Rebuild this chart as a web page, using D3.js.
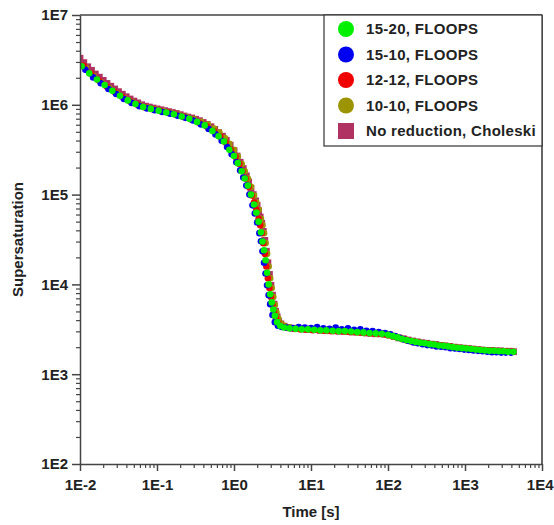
<!DOCTYPE html>
<html><head><meta charset="utf-8">
<script src="https://cdn.jsdelivr.net/npm/d3@7/dist/d3.min.js"></script>
<style>
html,body{margin:0;padding:0;background:#fff;}
svg{display:block;font-family:"Liberation Sans",Arial,sans-serif;}
</style></head>
<body>
<svg id="c" width="554" height="525"></svg>
<script>
// ---- data ----
const seriesNames = ["15-20, FLOOPS","15-10, FLOOPS","12-12, FLOOPS","10-10, FLOOPS","No reduction, Choleski"];
const xTickLabels = ["1E-2","1E-1","1E0","1E1","1E2","1E3","1E4"];
const yTickLabels = ["1E2","1E3","1E4","1E5","1E6","1E7"];

const greenT = [0.0105,0.0132,0.0166,0.0209,0.0263,0.0331,0.0417,0.0525,0.0661,0.0832,0.105,0.132,0.166,0.209,0.263,0.331,0.417,0.525,0.631,0.741,0.871,1.0,1.122,1.259,1.38,1.514,1.66,1.82,1.95,2.09,2.239,2.344,2.455,2.57,2.69,2.82,2.95,3.09,3.24,3.39,3.63,3.98,4.47,5.25,6.31,7.59,9.12,11.0,13.2,15.8,19.1,22.9,27.5,33.1,39.8,47.9,57.5,69.2,83.2,100,115,132,151,174,200,229,263,302,347,398,457,525,603,692,794,912,1047,1202,1380,1585,1820,2089,2399,2754,3162,3631,4266];
const greenS = [2.69e6,2.24e6,1.91e6,1.66e6,1.43e6,1.26e6,1.12e6,1.02e6,9.44e5,9.0e5,8.6e5,8.2e5,7.85e5,7.4e5,7.0e5,6.45e5,5.9e5,5.1e5,4.47e5,3.9e5,3.16e5,2.69e5,2.24e5,1.82e5,1.51e5,1.26e5,1.0e5,7.76e4,6.3e4,5.0e4,3.8e4,3.0e4,2.4e4,1.86e4,1.35e4,1.0e4,7.76e3,6.3e3,5.25e3,4.47e3,3.8e3,3.47e3,3.31e3,3.24e3,3.2e3,3.16e3,3.16e3,3.13e3,3.09e3,3.09e3,3.05e3,3.02e3,3.02e3,2.99e3,2.95e3,2.92e3,2.88e3,2.85e3,2.82e3,2.75e3,2.66e3,2.57e3,2.48e3,2.40e3,2.34e3,2.29e3,2.24e3,2.21e3,2.16e3,2.14e3,2.09e3,2.07e3,2.04e3,2.0e3,1.97e3,1.95e3,1.93e3,1.905e3,1.88e3,1.86e3,1.84e3,1.82e3,1.82e3,1.80e3,1.80e3,1.78e3,1.78e3];

const blueT = [0.01175,0.0148,0.0186,0.0234,0.0295,0.0372,0.0468,0.0589,0.0741,0.0933,0.117,0.148,0.186,0.234,0.295,0.372,0.468,0.575,0.692,0.813,0.933,1.072,1.202,1.318,1.445,1.585,1.738,1.862,1.995,2.138,2.239,2.344,2.455,2.57,2.69,2.82,2.95,3.16,3.39,3.72,4.17,4.79,5.75,6.92,8.32,10,12.0,14.5,17.4,20.9,25.1,30.2,36.3,43.7,52.5,63.1,75.9,91.2,107,123,141,162,186,214,245,282,324,372,427,490,562,646,741,851,977,1122,1288,1479,1698,1950,2239,2570,2951,3388,3981];
const blueS = [2.45e6,2.02e6,1.74e6,1.50e6,1.32e6,1.16e6,1.05e6,9.66e5,9.12e5,8.71e5,8.32e5,7.94e5,7.55e5,7.16e5,6.68e5,6.03e5,5.37e5,4.68e5,3.98e5,3.39e5,2.82e5,2.29e5,1.86e5,1.55e5,1.26e5,1.0e5,7.59e4,6.17e4,4.9e4,3.72e4,3.02e4,2.34e4,1.74e4,1.32e4,9.77e3,7.59e3,6.03e3,4.57e3,3.8e3,3.47e3,3.35e3,3.31e3,3.27e3,3.35e3,3.31e3,3.27e3,3.36e3,3.24e3,3.20e3,3.31e3,3.16e3,3.24e3,3.13e3,3.16e3,3.05e3,3.02e3,2.95e3,2.88e3,2.79e3,2.66e3,2.54e3,2.43e3,2.34e3,2.26e3,2.21e3,2.16e3,2.11e3,2.09e3,2.04e3,2.02e3,2.0e3,1.95e3,1.93e3,1.905e3,1.88e3,1.86e3,1.84e3,1.82e3,1.80e3,1.78e3,1.76e3,1.76e3,1.74e3,1.74e3,1.74e3];

const redT = [0.0111,0.01396,0.0176,0.0221,0.0279,0.0351,0.0442,0.0556,0.070,0.0881,0.111,0.140,0.176,0.221,0.279,0.351,0.442,0.55,0.661,0.776,0.912,1.047,1.175,1.288,1.413,1.549,1.698,1.82,1.95,2.089,2.188,2.291,2.399,2.512,2.63,2.754,2.884,3.02,3.162,3.31,3.51,3.80,4.27,5.01,6.03,7.24,8.71,10.5,12.6,15.1,18.2,21.9,26.3,31.6,38.0,45.7,55.0,66.1,79.4,95.5,112,129,148,170,195,224,257,295,339,389,447,513,589,676,776,891,1023,1175,1349,1549,1778,2042,2344,2692,3090,3548,4169];
const redS = [2.72e6,2.21e6,1.86e6,1.60e6,1.40e6,1.23e6,1.10e6,1.0e6,9.33e5,8.91e5,8.51e5,8.13e5,7.76e5,7.33e5,6.84e5,6.31e5,5.75e5,5.07e5,4.42e5,3.8e5,3.13e5,2.63e5,2.19e5,1.82e5,1.51e5,1.22e5,9.77e4,8.13e4,6.76e4,5.37e4,4.57e4,3.72e4,2.88e4,2.19e4,1.58e4,1.17e4,9.12e3,7.24e3,5.89e3,4.9e3,4.17e3,3.63e3,3.39e3,3.27e3,3.2e3,3.16e3,3.13e3,3.09e3,3.09e3,3.05e3,3.02e3,3.02e3,2.99e3,2.95e3,2.95e3,2.92e3,2.88e3,2.85e3,2.82e3,2.75e3,2.69e3,2.60e3,2.51e3,2.43e3,2.34e3,2.29e3,2.24e3,2.21e3,2.16e3,2.14e3,2.09e3,2.07e3,2.04e3,2.0e3,1.97e3,1.95e3,1.93e3,1.905e3,1.88e3,1.86e3,1.84e3,1.82e3,1.82e3,1.80e3,1.80e3,1.78e3,1.78e3];

const oliveT = [0.0119,0.01496,0.0188,0.0237,0.0299,0.0376,0.0473,0.0596,0.075,0.0944,0.119,0.150,0.188,0.237,0.299,0.372,0.457,0.55,0.646,0.759,0.871,1.0,1.122,1.259,1.38,1.514,1.66,1.82,1.95,2.089,2.239,2.344,2.455,2.57,2.69,2.82,2.95,3.09,3.24,3.39,3.55,3.76,4.07,4.57,5.37,6.46,7.76,9.33,11.2,13.5,16.2,19.5,23.4,28.2,33.9,40.7,49.0,58.9,70.8,85.1,102,117,135,155,178,204,234,269,309,355,407,468,537,617,708,813,933,1072,1230,1413,1622,1862,2138,2455,2818,3236,3715];
const oliveS = [2.57e6,2.11e6,1.78e6,1.55e6,1.35e6,1.19e6,1.08e6,9.89e5,9.33e5,8.91e5,8.51e5,8.13e5,7.76e5,7.33e5,6.92e5,6.46e5,6.03e5,5.43e5,4.9e5,4.27e5,3.67e5,3.16e5,2.66e5,2.19e5,1.82e5,1.51e5,1.22e5,9.77e4,8.13e4,6.76e4,5.37e4,4.57e4,3.72e4,2.88e4,2.19e4,1.58e4,1.17e4,9.12e3,7.24e3,5.89e3,4.9e3,4.17e3,3.67e3,3.43e3,3.31e3,3.24e3,3.2e3,3.16e3,3.13e3,3.09e3,3.05e3,3.02e3,3.02e3,2.99e3,2.95e3,2.92e3,2.88e3,2.85e3,2.82e3,2.79e3,2.72e3,2.63e3,2.54e3,2.45e3,2.37e3,2.32e3,2.26e3,2.24e3,2.19e3,2.16e3,2.11e3,2.09e3,2.07e3,2.02e3,2.0e3,1.97e3,1.95e3,1.93e3,1.905e3,1.88e3,1.86e3,1.84e3,1.82e3,1.82e3,1.80e3,1.80e3,1.78e3];

const pinkT = [0.01,0.0112,0.0126,0.0141,0.0158,0.0178,0.02,0.0224,0.0251,0.0282,0.0316,0.0355,0.0398,0.0447,0.0501,0.0562,0.0631,0.0708,0.0794,0.0891,0.1,0.112,0.126,0.141,0.158,0.178,0.2,0.224,0.251,0.282,0.316,0.355,0.398,0.447,0.501,0.562,0.631,0.708,0.794,0.891,1.0,1.096,1.202,1.318,1.445,1.549,1.66,1.778,1.905,1.995,2.089,2.188,2.291,2.399,2.512,2.63,2.754,2.884,3.02,3.162,3.311,3.467,3.631,3.802,4.07,4.47,5.01,5.75,6.61,7.59,8.71,10,11.5,13.2,15.1,17.4,20,22.9,26.3,30.2,34.7,39.8,45.7,52.5,60.3,69.2,79.4,91.2,105,120,138,158,182,209,240,275,316,363,417,479,550,631,724,832,955,1096,1259,1445,1660,1905,2188,2512,2884,3311,3802,4266];
const pinkS = [3.3e6,2.95e6,2.65e6,2.42e6,2.2e6,2.03e6,1.87e6,1.73e6,1.61e6,1.50e6,1.40e6,1.31e6,1.23e6,1.16e6,1.10e6,1.05e6,1.0e6,9.66e5,9.44e5,9.2e5,9.0e5,8.8e5,8.6e5,8.4e5,8.2e5,8.0e5,7.76e5,7.5e5,7.3e5,7.13e5,6.9e5,6.65e5,6.35e5,6.05e5,5.7e5,5.31e5,4.9e5,4.47e5,4.03e5,3.55e5,3.09e5,2.69e5,2.29e5,1.95e5,1.62e5,1.38e5,1.175e5,1.0e5,8.51e4,7.59e4,6.61e4,5.62e4,4.79e4,3.89e4,3.09e4,2.34e4,1.74e4,1.29e4,9.77e3,7.59e3,6.03e3,5.01e3,4.37e3,3.89e3,3.63e3,3.43e3,3.31e3,3.25e3,3.22e3,3.2e3,3.16e3,3.16e3,3.13e3,3.09e3,3.09e3,3.05e3,3.05e3,3.02e3,3.02e3,2.99e3,2.95e3,2.95e3,2.92e3,2.88e3,2.85e3,2.82e3,2.82e3,2.79e3,2.72e3,2.63e3,2.54e3,2.48e3,2.40e3,2.34e3,2.29e3,2.24e3,2.21e3,2.16e3,2.14e3,2.09e3,2.07e3,2.04e3,2.0e3,1.97e3,1.95e3,1.93e3,1.905e3,1.88e3,1.86e3,1.84e3,1.84e3,1.82e3,1.82e3,1.80e3,1.80e3,1.78e3];

const colors = ["#00f000","#0000f0","#f00000","#9c9400","#b03262"];

// ---- chart ----
const svg = d3.select("#c");
const L = 80, R = 542, T = 15, B = 464;
const x = d3.scaleLog().domain([1e-2, 1e4]).range([L, R]);
const y = d3.scaleLog().domain([1e2, 1e7]).range([B, T]);

const xMajor = d3.range(-2, 5).map(e => Math.pow(10, e));
const yMajor = d3.range(2, 8).map(e => Math.pow(10, e));
const minorOf = majors => { const m = []; majors.slice(0, -1).forEach(v => { for (let k = 2; k <= 9; k++) m.push(v * k); }); return m; };

svg.append("defs").append("clipPath").attr("id","clip")
  .append("rect").attr("x", L).attr("y", T).attr("width", R - L).attr("height", B - T);

// frame top & right
svg.append("line").attr("x1", L).attr("x2", R).attr("y1", T).attr("y2", T).attr("stroke", "#444").attr("stroke-width", 1.5);
svg.append("line").attr("x1", R).attr("x2", R).attr("y1", T).attr("y2", B).attr("stroke", "#666").attr("stroke-width", 2);

const plot = svg.append("g").attr("clip-path", "url(#clip)");
function pts(ts, ss) { return ts.map((t, i) => [t, ss[i]]); }

// squares (bottom)
plot.append("g").selectAll("rect").data(pts(pinkT, pinkS)).join("rect")
  .attr("x", d => x(d[0]) - 3.4).attr("y", d => y(d[1]) - 3.4)
  .attr("width", 6.8).attr("height", 6.8).attr("fill", colors[4]);

const circleSets = [[oliveT, oliveS, colors[3]], [redT, redS, colors[2]], [blueT, blueS, colors[1]], [greenT, greenS, colors[0]]];
circleSets.forEach(([ts, ss, c]) => {
  plot.append("g").selectAll("circle").data(pts(ts, ss)).join("circle")
    .attr("cx", d => x(d[0])).attr("cy", d => y(d[1])).attr("r", 3.3).attr("fill", c);
});

// axes
const axisStyle = g => { g.selectAll("path,line").attr("stroke", "#444").attr("stroke-width", 1.5); };

const xAxis = svg.append("g").attr("transform", `translate(0,${B})`)
  .call(d3.axisBottom(x).tickValues(xMajor).tickSize(7).tickSizeOuter(0)
    .tickFormat((d, i) => xTickLabels[i]));
xAxis.call(axisStyle);
xAxis.selectAll("text").attr("dy", null).attr("y", 26).attr("fill", "#222")
  .style("font-size", "15px").style("font-weight", "bold");
// keep the last label inside the page
xAxis.selectAll(".tick").filter((d, i) => i === xMajor.length - 1).select("text")
  .attr("text-anchor", "end").attr("x", 553 - R);
svg.append("g").attr("transform", `translate(0,${B})`)
  .call(d3.axisBottom(x).tickValues(minorOf(xMajor)).tickSize(4).tickFormat(""))
  .call(g => g.select(".domain").remove())
  .call(g => g.selectAll("line").attr("stroke", "#444").attr("stroke-width", 1.2));

const yAxis = svg.append("g").attr("transform", `translate(${L},0)`)
  .call(d3.axisLeft(y).tickValues(yMajor).tickSize(8).tickSizeOuter(0)
    .tickFormat((d, i) => yTickLabels[i]));
yAxis.call(axisStyle);
yAxis.selectAll("text").attr("x", -12).attr("fill", "#222")
  .style("font-size", "15px").style("font-weight", "bold");
svg.append("g").attr("transform", `translate(${L},0)`)
  .call(d3.axisLeft(y).tickValues(minorOf(yMajor)).tickSize(4).tickFormat(""))
  .call(g => g.select(".domain").remove())
  .call(g => g.selectAll("line").attr("stroke", "#444").attr("stroke-width", 1.2));

// axis titles
svg.append("text").attr("x", (L + R) / 2).attr("y", 517).attr("text-anchor", "middle")
  .style("font-size", "15px").style("font-weight", "bold").attr("fill", "#222").text("Time [s]");
svg.append("text").attr("transform", `translate(23,${(T + B) / 2}) rotate(-90)`).attr("text-anchor", "middle")
  .style("font-size", "15px").style("font-weight", "bold").attr("fill", "#222").text("Supersaturation");

// legend
const lg = svg.append("g");
lg.append("rect").attr("x", 324).attr("y", T).attr("width", R - 324).attr("height", 146 - T)
  .attr("fill", "#fff").attr("stroke", "#333").attr("stroke-width", 1.2);
const rowY = d3.scalePoint().domain(seriesNames).range([29, 131]);
seriesNames.forEach((n, i) => {
  const cy = rowY(n);
  if (i < 4) lg.append("circle").attr("cx", 346).attr("cy", cy).attr("r", 8).attr("fill", colors[i]);
  else lg.append("rect").attr("x", 338).attr("y", cy - 8).attr("width", 16).attr("height", 16).attr("fill", colors[i]);
  lg.append("text").attr("x", 366).attr("y", cy).attr("dy", "0.36em")
    .style("font-size", "15px").style("font-weight", "bold").style("letter-spacing", "0.3px")
    .attr("fill", "#222").text(n);
});
</script>
</body></html>
